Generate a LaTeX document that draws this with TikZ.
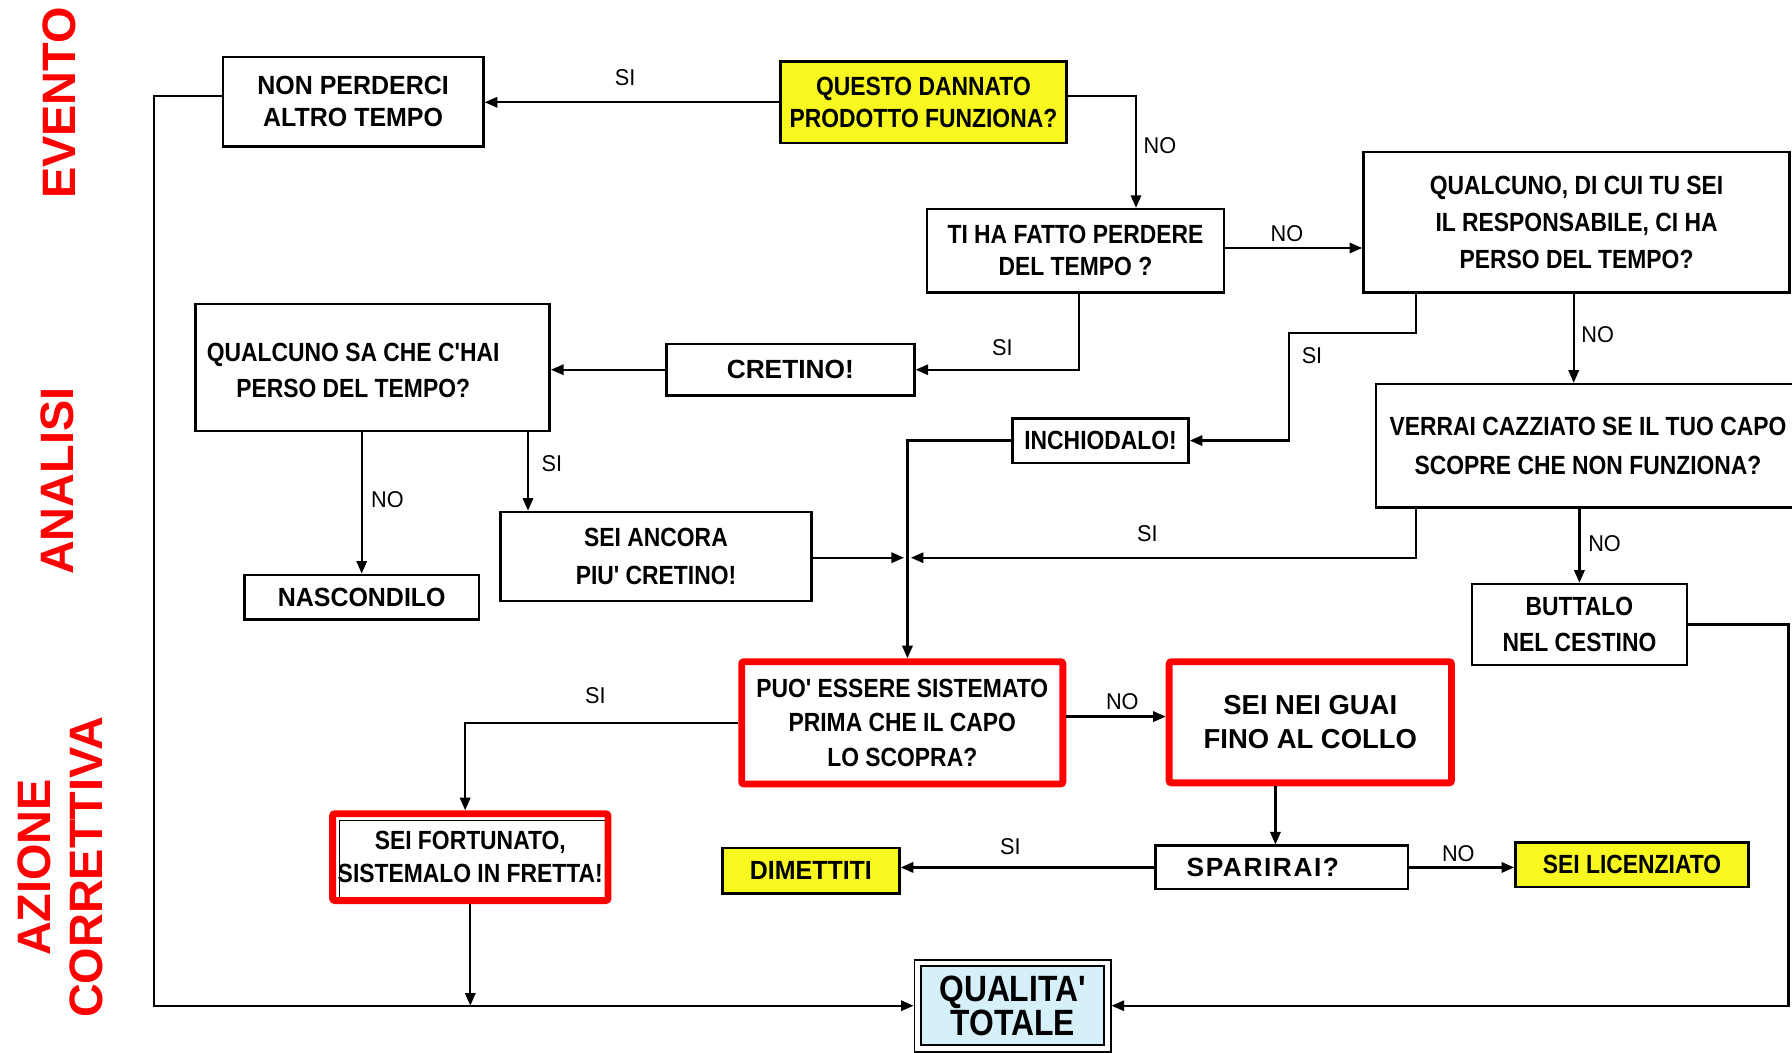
\documentclass[tikz,border=0pt]{standalone}
\usepackage{fontspec}
\usetikzlibrary{arrows.meta,calc,backgrounds}
\newfontfamily\boxfont{Liberation Sans}[FakeStretch=0.87]
\newfontfamily\boxwidefont{Liberation Sans}[FakeStretch=0.95]
\newfontfamily\boxfullfont{Liberation Sans}
\newfontfamily\boxspacedfont{Liberation Sans}[LetterSpace=6]
\newfontfamily\labfont{Liberation Sans}[FakeStretch=0.95]
\newfontfamily\sidefont{Liberation Sans}
\definecolor{qyellow}{RGB}{248,248,32}
\definecolor{qred}{RGB}{255,0,0}
\definecolor{qblue}{RGB}{214,240,250}
\tikzset{
  box/.style={draw=black, line width=2.2pt, fill=white, inner sep=0pt, align=center,
    font=\boxfont\bfseries\fontsize{23}{#1}\selectfont},
  box/.default=28,
  widebox/.style={box, font=\boxwidefont\bfseries\fontsize{23}{28}\selectfont},
  ybox/.style={box=#1, fill=qyellow},
  ybox/.default=28,
  rbox/.style={box=#1, draw=qred, line width=6pt, rounded corners=2pt},
  rbox/.default=30,
  txt/.style={inner sep=0pt, align=center, font=\boxfont\bfseries\fontsize{23}{#1}\selectfont},
  txt/.default=28,
  arr/.style={line width=2pt, -{Triangle[length=11pt,width=9pt]}},
  lab/.style={inner sep=0pt, font=\labfont\fontsize{20}{24}\selectfont},
  side/.style={inner sep=0pt, align=center, rotate=90, text=qred,
    font=\sidefont\bfseries\fontsize{41}{46}\selectfont},
}
\begin{document}
\begin{tikzpicture}[x=1pt,y=-1pt]
\fill[white] (0,0) rectangle (1568,921);
\useasboundingbox (0,0) rectangle (1568,921);

% phase titles on the left
\node[side] (evento) at (52,90) {EVENTO};
\node[side] (analisi) at (50,421) {ANALISI};
\node[side] (azione) at (53,759) {AZIONE\\CORRETTIVA};

% event
\node[widebox, minimum width=228, minimum height=78] (nonperd) at (309,89) {NON PERDERCI\\ALTRO TEMPO};
\node[ybox, minimum width=250, minimum height=71] (questo) at (808,89.5) {QUESTO DANNATO\\PRODOTTO FUNZIONA?};

% analysis
\node[box, minimum width=260, minimum height=73] (tiha) at (941,219.5) {TI HA FATTO PERDERE\\DEL TEMPO ?};
\node[box=32.5, minimum width=373, minimum height=123] (qdicui) at (1379.5,194.5)
  {QUALCUNO, DI CUI TU SEI\\IL RESPONSABILE, CI HA\\PERSO DEL TEMPO?};
\node[box, minimum width=217, minimum height=45, font=\boxfullfont\bfseries\fontsize{23}{28}\selectfont]
  (cretino) at (691.5,323.5) {CRETINO!};
\node[box, minimum width=310, minimum height=111] (qsa) at (326,321.5) {};
\node[txt=32] (qsa-t) at (309,324) {QUALCUNO SA CHE C'HAI\\PERSO DEL TEMPO?};
\node[box, minimum width=154, minimum height=39] (inchiodalo) at (963,385.5) {INCHIODALO!};
\node[box=34, minimum width=371, minimum height=108] (verrai) at (1389.5,390)
  {VERRAI CAZZIATO SE IL TUO CAPO\\SCOPRE CHE NON FUNZIONA?};
\node[box=33, minimum width=272, minimum height=78] (seiancora) at (574,487) {SEI ANCORA\\PIU' CRETINO!};
\node[widebox, minimum width=205, minimum height=39] (nascondilo) at (316.5,522.5) {NASCONDILO};
\node[box=31, minimum width=188, minimum height=71] (buttalo) at (1382,546.5) {BUTTALO\\NEL CESTINO};

% corrective action
\node[rbox=30.5, minimum width=281, minimum height=107] (puo) at (789.5,632.5)
  {PUO' ESSERE SISTEMATO\\PRIMA CHE IL CAPO\\LO SCOPRA?};
\node[rbox, minimum width=247, minimum height=106, font=\sidefont\bfseries\fontsize{24}{30}\selectfont]
  (guai) at (1146.5,632) {SEI NEI GUAI\\FINO AL COLLO};
\node[rbox=29, minimum width=241, minimum height=76] (fortunato) at (411.5,750) {SEI FORTUNATO,\\SISTEMALO IN FRETTA!};
\node[ybox, minimum width=155, minimum height=40, font=\boxwidefont\bfseries\fontsize{23}{28}\selectfont]
  (dimettiti) at (709.5,762) {DIMETTITI};
\node[box, minimum width=221, minimum height=38] (sparirai) at (1121.5,759) {};
\node[txt, font=\boxspacedfont\bfseries\fontsize{23}{28}\selectfont] (sparirai-t) at (1105,759) {SPARIRAI?};
\node[ybox, minimum width=204, minimum height=39] (licenziato) at (1428,756.5) {SEI LICENZIATO};
\node[draw=black, line width=1.6pt, double=white, double distance=4pt, fill=qblue,
  inner sep=0pt, outer sep=3.6pt, minimum width=166, minimum height=75, align=center,
  font=\boxfont\bfseries\fontsize{32}{30}\selectfont] (qualita) at (886,880) {QUALITA'\\TOTALE};

% black outlines left under / inside the red frames
\begin{scope}[on background layer]
  \draw[line width=1.6pt] ([shift={(7,7)}]puo.north west) rectangle ([shift={(2,2)}]puo.south east);
\end{scope}
\draw[line width=1.4pt] ($(fortunato.south west)+(9,-6)$) |- ($(fortunato.north east)+(-6,9)$);

% connectors
\draw[arr] (questo.west) -- (questo.west -| nonperd.east);
\draw[arr] ([yshift=5.5pt]questo.east) -| ([xshift=53pt]tiha.north);
\coordinate (c1) at ([yshift=2.5pt]tiha.east);
\draw[arr] (c1) -- (c1 -| qdicui.west);
\draw[arr] ([xshift=3pt]tiha.south) |- (cretino.east);
\draw[arr] (cretino.west) -- (cretino.west -| qsa.east);
\draw[arr] (qsa.south -| nascondilo.north) -- (nascondilo.north);
\coordinate (g1) at ([xshift=136pt]qsa.south);
\draw[arr] (g1) -- (g1 |- seiancora.north);
\draw[arr] ([xshift=-140.5pt]qdicui.south) -- ++(0,34) -- ++(-111,0) |- (inchiodalo.east);
\coordinate (i1) at ([xshift=-12.5pt]verrai.north);
\draw[arr] (i1 |- qdicui.south) -- (i1);
\coordinate (jline) at ([xshift=4.5pt]puo.north);
\draw[arr] (inchiodalo.west) -| (jline);
\coordinate (mg) at ([yshift=-1pt]seiancora.east -| jline);
\draw[arr] ([yshift=-1pt]seiancora.east) -- ([xshift=-3pt]mg);
\draw[arr] ([xshift=-150.5pt]verrai.south) |- ([xshift=3pt]mg);
\draw[arr] (verrai.south -| buttalo.north) -- (buttalo.north);
\coordinate (rc) at (1565,880);
\draw[arr] (buttalo.east) -| (rc) -- (qualita.east);
\draw[arr] (puo.west) -| ([xshift=-4.5pt]fortunato.north);
\coordinate (p1) at ([yshift=5.5pt]puo.east);
\draw[arr] (p1) -- (p1 -| guai.west);
\coordinate (q1) at ([xshift=-30.5pt]guai.south);
\draw[arr] (q1) -- (q1 |- sparirai.north);
\draw[arr] (sparirai.west) -- (sparirai.west -| dimettiti.east);
\draw[arr] (sparirai.east) -- (sparirai.east -| licenziato.west);
\coordinate (t1) at (fortunato.south |- qualita.west);
\draw[arr] (fortunato.south) -- (t1);
\coordinate (lc) at (135,880);
\draw[arr] ([yshift=5pt]nonperd.west) -| (lc) -- (qualita.west);

% branch labels
\node[lab] (l1) at (547,68) {SI};
\node[lab] (l2) at (1015,127) {NO};
\node[lab] (l3) at (1126,204) {NO};
\node[lab] (l4) at (877,304) {SI};
\node[lab] (l5) at (1148,311) {SI};
\node[lab] (l6) at (1398,293) {NO};
\node[lab] (l7) at (483,406) {SI};
\node[lab] (l8) at (339,437) {NO};
\node[lab] (l9) at (1004,467) {SI};
\node[lab] (l10) at (1404,476) {NO};
\node[lab] (l11) at (521,609) {SI};
\node[lab] (l12) at (982,614) {NO};
\node[lab] (l13) at (884,741) {SI};
\node[lab] (l14) at (1276,747) {NO};
\end{tikzpicture}
\end{document}
